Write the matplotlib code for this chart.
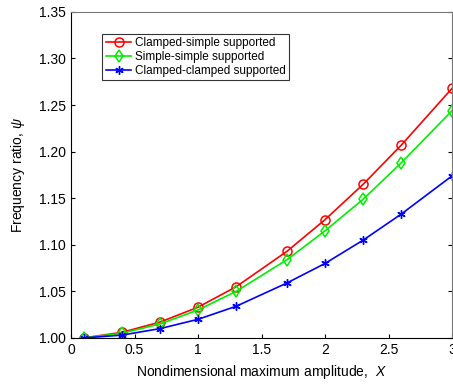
import numpy as np
import matplotlib.pyplot as plt

plt.rcParams['font.family'] = ['Liberation Sans', 'DejaVu Sans']
plt.rcParams['mathtext.fontset'] = 'custom'
plt.rcParams['mathtext.it'] = 'Liberation Sans:italic'

# amplitude values and frequency ratios
X = [0.1, 0.4, 0.7, 1.0, 1.3, 1.7, 2.0, 2.3, 2.6, 3.0]
psi_cs = [1.000, 1.006, 1.017, 1.033, 1.055, 1.093, 1.127, 1.165, 1.207, 1.268]
psi_ss = [1.000, 1.005, 1.015, 1.030, 1.050, 1.084, 1.115, 1.149, 1.188, 1.244]
psi_cc = [1.000, 1.003, 1.010, 1.020, 1.034, 1.059, 1.080, 1.105, 1.133, 1.174]

fig = plt.figure(figsize=(4.53, 3.84), dpi=100)
ax = fig.add_axes([0.157, 0.120, 0.841, 0.849])

ax.plot(X, psi_cs, '-', color='#ff0000', marker='o', mfc='none', ms=6.5, mew=1.1, lw=1.2,
        label='Clamped-simple supported')
ax.plot(X, psi_ss, '-', color='#00ee00', marker='d', mfc='none', ms=6, mew=1.1, lw=1.2,
        label='Simple-simple supported')
ax.plot(X, psi_cc, '-', color='#0000ff', marker=(6, 2, 0), ms=6, mew=1.0, lw=1.2,
        label='Clamped-clamped supported')

ax.set_xlim(0, 3)
ax.set_ylim(1.0, 1.35)
ax.set_xticks(np.arange(0, 3.01, 0.5))
ax.set_xticklabels(['0', '0.5', '1', '1.5', '2', '2.5', '3'])
ax.set_yticks(np.arange(1.0, 1.351, 0.05))
ax.set_yticklabels(['%.2f' % v for v in np.arange(1.0, 1.351, 0.05)])
ax.tick_params(direction='in', top=False, right=True, labelsize=10, length=3, pad=4)

for s in ['top', 'right']:
    ax.spines[s].set_color('#777777')

ax.set_xlabel(r'Nondimensional maximum amplitude,  $\mathit{X}$', fontsize=10)
ax.set_ylabel(r'Frequency ratio, $\mathit{\psi}$', fontsize=10, labelpad=8)

leg = ax.legend(loc='upper left', bbox_to_anchor=(0.081, 0.933), fontsize=8.5, frameon=True,
                fancybox=False, edgecolor='black', handlelength=2.2, borderpad=0.3,
                labelspacing=0.15, handletextpad=0.3, borderaxespad=0)
leg.get_frame().set_linewidth(0.8)

plt.savefig('out.png', dpi=100)
